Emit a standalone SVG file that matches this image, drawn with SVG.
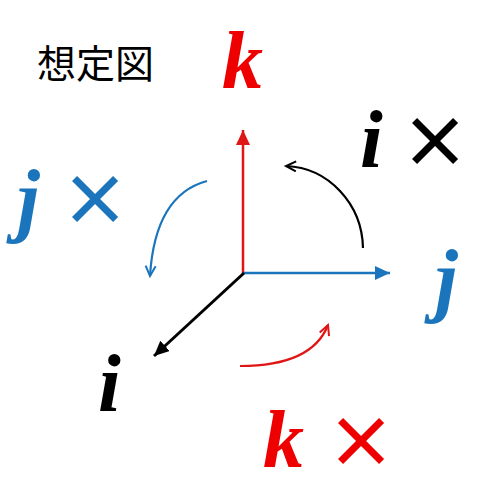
<svg xmlns="http://www.w3.org/2000/svg" width="480" height="492" viewBox="0 0 480 492">
<style>
.var{font-family:"Liberation Serif",serif;font-style:italic;font-weight:bold;font-size:82px}
.x{font-family:"Noto Sans CJK JP",sans-serif;font-weight:bold;font-size:70px}
.ttl{font-family:"Noto Sans CJK JP",sans-serif;font-size:39px;fill:#000}
.red{fill:#ee0000}.blue{fill:#1a75bc}.blk{fill:#000}
.arc{fill:none;stroke-width:2.2}
</style>
<defs>
<marker id="tR" markerUnits="userSpaceOnUse" markerWidth="16" markerHeight="16" refX="15" refY="7" orient="auto"><path d="M0,0 L15,7 L0,14 z" fill="#e01515"/></marker>
<marker id="tB" markerUnits="userSpaceOnUse" markerWidth="16" markerHeight="16" refX="15" refY="7" orient="auto"><path d="M0,0 L15,7 L0,14 z" fill="#1a75bc"/></marker>
<marker id="tK" markerUnits="userSpaceOnUse" markerWidth="16" markerHeight="16" refX="15" refY="7" orient="auto"><path d="M0,0 L15,7 L0,14 z" fill="#000"/></marker>
<marker id="vR" markerUnits="userSpaceOnUse" markerWidth="14" markerHeight="14" refX="11" refY="6" orient="auto"><path d="M1,1 L11,6 L1,11" fill="none" stroke="#e01515" stroke-width="2"/></marker>
<marker id="vB" markerUnits="userSpaceOnUse" markerWidth="14" markerHeight="14" refX="11" refY="6" orient="auto"><path d="M1,1 L11,6 L1,11" fill="none" stroke="#1a75bc" stroke-width="2"/></marker>
<marker id="vK" markerUnits="userSpaceOnUse" markerWidth="14" markerHeight="14" refX="11" refY="6" orient="auto"><path d="M1,1 L11,6 L1,11" fill="none" stroke="#000" stroke-width="2"/></marker>
</defs>
<g id="title"><text class="ttl" x="37" y="78">想定図</text></g>
<g id="connectors">
<line x1="243" y1="273" x2="243" y2="130" stroke="#e01515" stroke-width="2.5" marker-end="url(#tR)"/>
<line x1="243" y1="273" x2="390" y2="273" stroke="#1a75bc" stroke-width="2.5" marker-end="url(#tB)"/>
<line x1="244" y1="273" x2="154" y2="356" stroke="#000" stroke-width="3" marker-end="url(#tK)"/>
<path class="arc" d="M363,248 A80,84 0 0 0 286,166" stroke="#000" marker-end="url(#vK)"/>
<path class="arc" d="M207,181 Q155,195 150,276" stroke="#1a75bc" marker-end="url(#vB)"/>
<path class="arc" d="M240,366 Q312,366 328,325" stroke="#e01515" marker-end="url(#vR)"/>
</g>
<g id="label-k"><text class="var red" x="222" y="88">k</text></g>
<g id="label-j"><text class="var blue" x="435" y="306">j</text></g>
<g id="label-i"><text class="var blk" x="98" y="411">i</text></g>
<g id="label-ix"><text class="var blk" x="360" y="167">i</text><text class="x blk" x="400" y="168">×</text></g>
<g id="label-jx"><text class="var blue" x="17" y="226">j</text><text class="x blue" x="60" y="226">×</text></g>
<g id="label-kx"><text class="var red" x="263" y="467">k</text><text class="x red" x="326" y="468">×</text></g>
</svg>
